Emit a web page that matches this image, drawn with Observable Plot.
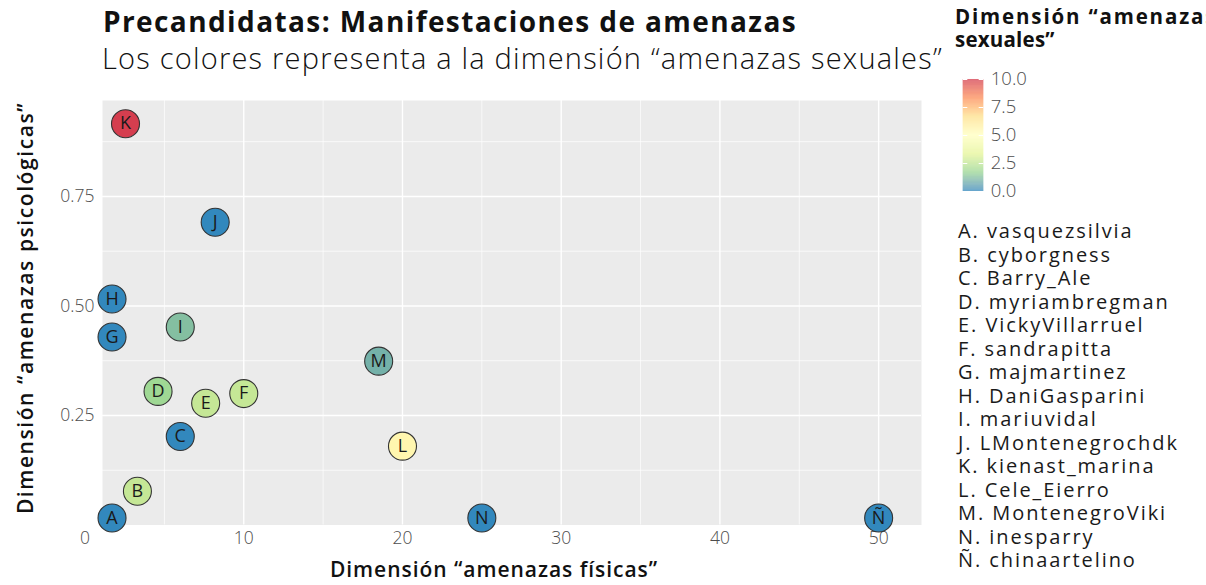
<!DOCTYPE html>
<html>
<head>
<meta charset="utf-8">
<script src="https://cdn.jsdelivr.net/npm/d3@7"></script>
<script src="https://cdn.jsdelivr.net/npm/@observablehq/plot@0.6"></script>
<style>
  html, body { margin: 0; padding: 0; background: #fff; overflow: hidden; }
  #wrap { position: relative; width: 1206px; height: 585px; overflow: hidden; font-family: "Open Sans", sans-serif; }
  .abs { position: absolute; white-space: nowrap; }
  #title { left: 103px; top: 2px; font-size: 28px; font-weight: 700; color: #111; }
  #subtitle { left: 102px; top: 38px; font-size: 29px; font-weight: 300; color: #111; }
  #xtitle { top: 555px; font-size: 21px; font-weight: 600; color: #111; transform: translateX(-50%); }
  #ytitle { font-size: 21px; font-weight: 600; color: #111; transform: translate(-50%, -50%) rotate(-90deg); }
  #ltitle { left: 955px; top: 5px; font-size: 20.5px; font-weight: 700; color: #111; line-height: 23px; }
  #names { left: 958px; top: 219px; font-size: 20px; font-weight: 400; color: #1a1a1a; line-height: 23.5px; }
  #names div { height: 23.5px; }
</style>
</head>
<body>
<div id="wrap">
  <div id="chart" class="abs" style="left:0;top:0"></div>
  <div id="legend" class="abs" style="left:940px;top:60px"></div>
  <div id="title" class="abs">Precandidatas: Manifestaciones de amenazas</div>
  <div id="subtitle" class="abs">Los colores representa a la dimensión “amenazas sexuales”</div>
  <div id="xtitle" class="abs">Dimensión “amenazas físicas”</div>
  <div id="ytitle" class="abs">Dimensión “amenazas psicológicas”</div>
  <div id="ltitle" class="abs"><span id="lt1">Dimensión “amenazas</span><br><span id="lt2">sexuales”</span></div>
  <div id="names" class="abs"></div>
</div>
<script>
// ---- data ----
const letters = ["A","B","C","D","E","F","G","H","I","J","K","L","M","N","Ñ"];
const names = ["vasquezsilvia","cyborgness","Barry_Ale","myriambregman","VickyVillarruel","sandrapitta","majmartinez","DaniGasparini","mariuvidal","LMontenegrochdk","kienast_marina","Cele_Eierro","MontenegroViki","inesparry","chinaartelino"];
const fisicas = [1.7, 3.3, 6.0, 4.6, 7.6, 10.0, 1.7, 1.7, 6.0, 8.2, 2.55, 20.0, 18.5, 25.0, 50.0];
const psicologicas = [0.016, 0.077, 0.202, 0.305, 0.278, 0.300, 0.429, 0.516, 0.452, 0.691, 0.916, 0.180, 0.374, 0.016, 0.016];
const sexuales = [0, 2.6, 0, 1.8, 2.6, 2.6, 0, 0, 1.2, 0, 10, 5.5, 0.9, 0, 0];

const xTicks = [0, 10, 20, 30, 40, 50];
const xMinor = [5, 15, 25, 35, 45];
const yTicks = [0.25, 0.50, 0.75];
const yMinor = [0.125, 0.375, 0.625, 0.875];
const legendTicks = [0, 2.5, 5, 7.5, 10];

const colorStops = [0, 10/6, 20/6, 5, 40/6, 50/6, 10];
const colorRange = ["#3288BD", "#99D594", "#E6F598", "#FFFFBF", "#FEE08B", "#FC8D59", "#D53E4F"];

const rows = letters.map((l, i) => ({letter: l, name: names[i], x: fisicas[i], y: psicologicas[i], s: sexuales[i]}));

const colorOpt = {type: "linear", domain: colorStops, range: colorRange, interpolate: "lab"};
const font = "'Open Sans', sans-serif";

const chart = Plot.plot({
  width: 1206, height: 585,
  marginLeft: 102, marginRight: 285, marginTop: 100, marginBottom: 60.5,
  style: {fontFamily: font, background: "transparent"},
  x: {domain: [1.1, 52.7]},
  y: {domain: [0, 0.969]},
  color: colorOpt,
  marks: [
    Plot.frame({fill: "#EBEBEB", stroke: null}),
    Plot.gridX(xMinor, {stroke: "white", strokeOpacity: 1, strokeWidth: 0.7}),
    Plot.gridX(xTicks.filter(d => d > 1.1), {stroke: "white", strokeOpacity: 1, strokeWidth: 1.4}),
    Plot.gridY(yMinor, {stroke: "white", strokeOpacity: 1, strokeWidth: 0.7}),
    Plot.gridY(yTicks, {stroke: "white", strokeOpacity: 1, strokeWidth: 1.4}),
    Plot.axisX(xTicks, {tickSize: 0, tickPadding: 7, fontSize: 17.5, fill: "#4D4D4D", label: null, fontWeight: 300}),
    Plot.axisY(yTicks, {tickSize: 0, tickPadding: 8, fontSize: 17.5, fill: "#4D4D4D", label: null, tickFormat: ".2f", fontWeight: 300}),
    Plot.dot(rows, {x: "x", y: "y", r: 14, fill: "s", stroke: "#333", strokeWidth: 1.1}),
    Plot.text(rows, {x: "x", y: "y", text: "letter", fontSize: 18, fill: "#1a1a1a", fontWeight: 400})
  ]
});
document.getElementById("chart").appendChild(chart);

const steps = d3.range(0, 10, 0.05);
const legend = Plot.plot({
  width: 110, height: 160,
  marginLeft: 22.7, marginRight: 66.7, marginTop: 19, marginBottom: 29,
  style: {fontFamily: font, background: "transparent"},
  x: {axis: null},
  y: {domain: [0, 10]},
  color: colorOpt,
  marks: [
    Plot.rect(steps, {y1: d => d, y2: d => d + 0.051, fill: d => d + 0.025}),
    Plot.tickY(legendTicks, {y: d => d, stroke: "white", strokeWidth: 1, insetRight: 16}),
    Plot.tickY(legendTicks, {y: d => d, stroke: "white", strokeWidth: 1, insetLeft: 16}),
    Plot.axisY(legendTicks, {anchor: "right", tickSize: 0, tickPadding: 7, tickFormat: ".1f", fontSize: 18.5, fill: "#4D4D4D", label: null, fontWeight: 300})
  ]
});
document.getElementById("legend").appendChild(legend);

document.getElementById("names").innerHTML = rows.map(r => `<div>${r.letter}. ${r.name}</div>`).join("");

// stretch text horizontally to the reference widths via letter-spacing
function fit(el, target) {
  el.style.letterSpacing = "0px";
  const w = el.offsetWidth;
  const n = el.textContent.length;
  el.style.letterSpacing = ((target - w) / n) + "px";
}
fit(document.getElementById("title"), 694);
fit(document.getElementById("subtitle"), 841);
const xt = document.getElementById("xtitle");
fit(xt, 328); xt.style.left = "494px";
const yt = document.getElementById("ytitle");
fit(yt, 412); yt.style.left = "25px"; yt.style.top = "308px";
const lt1 = document.getElementById("lt1");
lt1.style.display = "inline-block"; fit(lt1, 262);
const lt2 = document.getElementById("lt2");
lt2.style.display = "inline-block"; fit(lt2, 100);
const nameDivs = document.querySelectorAll("#names div");
nameDivs.forEach(d => { d.style.display = "block"; });
// common letter-spacing based on first entry
{
  const s = document.createElement("span");
  s.textContent = nameDivs[0].textContent;
  s.style.whiteSpace = "nowrap";
  document.getElementById("names").appendChild(s);
  s.style.position = "absolute";
  const w = s.offsetWidth;
  const ls = (176 - w) / s.textContent.length;
  s.remove();
  document.getElementById("names").style.letterSpacing = ls + "px";
}
</script>
</body>
</html>
